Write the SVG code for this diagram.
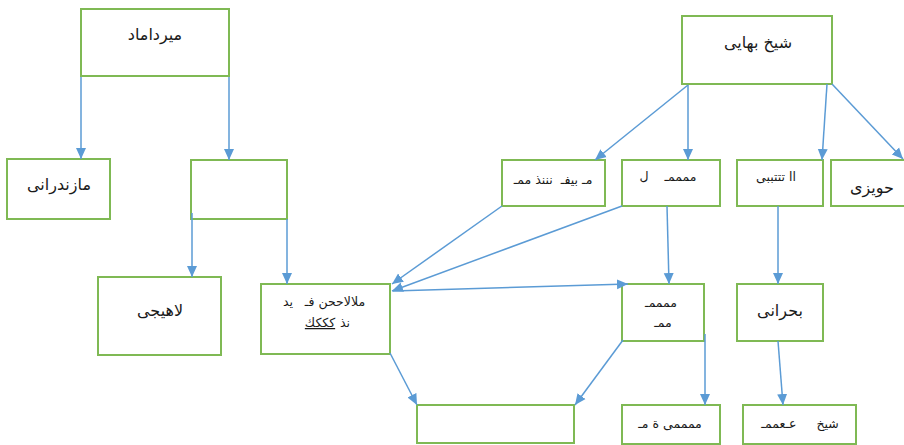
<svg xmlns="http://www.w3.org/2000/svg" width="904" height="445" viewBox="0 0 904 445">
<style>
.box{fill:#ffffff;stroke:#7fb954;stroke-width:2}
.c{fill:none;stroke:#5b9bd5;stroke-width:1.5;marker-end:url(#ah)}
.t{font-family:"DejaVu Sans",sans-serif;font-size:16px;fill:#1a1a1a;text-anchor:middle;white-space:pre}
.s{font-family:"DejaVu Sans",sans-serif;font-size:12.5px;fill:#1a1a1a;text-anchor:middle;white-space:pre}
</style>
<defs>
<marker id="ah" markerUnits="userSpaceOnUse" markerWidth="12" markerHeight="12" viewBox="0 0 12 12" refX="11" refY="6" orient="auto">
<path d="M0,1 L11,6 L0,11 Z" fill="#5b9bd5"/>
</marker>
</defs>
<rect width="904" height="445" fill="#ffffff"/>
<g id="n-mirdamad"><rect class="box" x="81" y="9" width="148" height="67"/><text class="t" x="155" y="40">میرداماد</text></g>
<g id="n-mazandarani"><rect class="box" x="7" y="159" width="103" height="60"/><text class="t" x="59" y="190">مازندرانی</text></g>
<g id="n-empty1"><rect class="box" x="191" y="160" width="96" height="59"/></g>
<g id="n-lahiji"><rect class="box" x="98" y="277" width="123" height="78"/><text class="t" x="160" y="316">لاهیجی</text></g>
<g id="n-e"><rect class="box" x="261" y="284" width="129" height="70"/><text class="s" x="324" y="306">ملالاححن فـ   يد</text><text class="s" x="320" y="327" text-decoration="underline">كككك</text><text class="s" x="345" y="327">نذ</text></g>
<g id="n-bahai"><rect class="box" x="682" y="16" width="150" height="68"/><text class="t" x="758" y="48">شیخ بهایی</text></g>
<g id="n-g"><rect class="box" x="502" y="160" width="103" height="46"/><text class="s" x="553" y="184">مـ بيفـ  نننذ ممـ</text></g>
<g id="n-h"><rect class="box" x="622" y="160" width="98" height="46"/><text class="s" x="668" y="181">ممممـ    ل</text></g>
<g id="n-i"><rect class="box" x="737" y="160" width="86" height="46"/><text class="s" x="776" y="181">اا تتتببى</text></g>
<g id="n-hoveyzi"><rect class="box" x="831" y="160" width="80" height="46"/><text class="t" x="872" y="193">حویزی</text></g>
<g id="n-k"><rect class="box" x="622" y="284" width="82" height="57"/><text class="s" x="661" y="307">ممممـ</text><text class="s" x="663" y="327">ممـ</text></g>
<g id="n-bahrani"><rect class="box" x="737" y="284" width="86" height="57"/><text class="t" x="780" y="316">بحرانی</text></g>
<g id="n-m"><rect class="box" x="622" y="405" width="98" height="39"/><text class="s" x="670" y="428">ممممى ة مـ</text></g>
<g id="n-n"><rect class="box" x="743" y="405" width="113" height="39"/><text class="s" x="800" y="428">شیخ     عـعممـ</text></g>
<g id="n-empty2"><rect class="box" x="417" y="405" width="157" height="38"/></g>
<g id="connectors">
<path class="c" d="M81,77 L81,159"/>
<path class="c" d="M229,77 L229,160"/>
<path class="c" d="M192,213 L192,277"/>
<path class="c" d="M287,219 L287,284"/>
<path class="c" d="M688,85 L595,160"/>
<path class="c" d="M688,85 L688,160"/>
<path class="c" d="M827,84 L822,160"/>
<path class="c" d="M832,84 L903,159"/>
<path class="c" d="M502,206 L392,284"/>
<path class="c" d="M622,206 L392,291"/>
<path class="c" d="M393,291 L628,284"/>
<path class="c" d="M667,206 L669,284"/>
<path class="c" d="M778,206 L778,284"/>
<path class="c" d="M705,334 L705,405"/>
<path class="c" d="M778,341 L783,405"/>
<path class="c" d="M390,353 L417,405"/>
<path class="c" d="M623,340 L575,405"/>
</g>
</svg>
